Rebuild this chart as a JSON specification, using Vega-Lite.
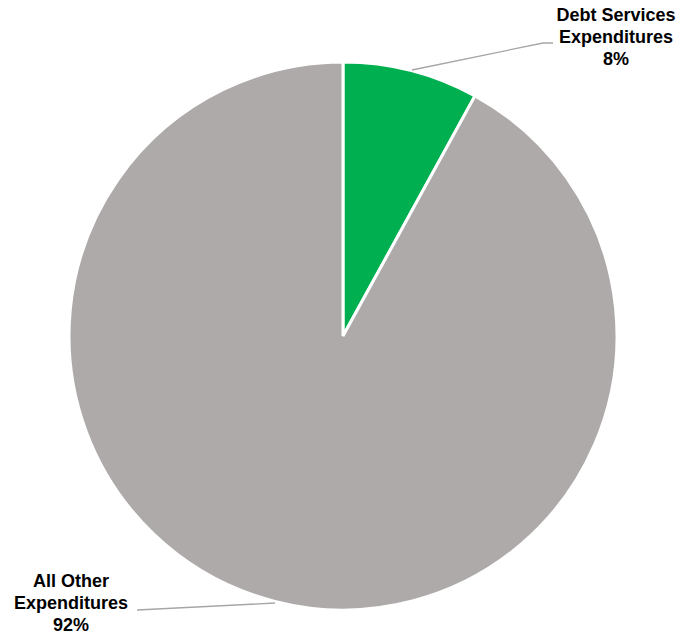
{
  "$schema": "https://vega.github.io/schema/vega-lite/v6.json",
  "width": 686,
  "height": 602,
  "autosize": {"type": "none"},
  "padding": {"left": 0, "top": 35, "right": 9, "bottom": 0},
  "background": "white",
  "config": {"view": {"stroke": null}},
  "datasets": {
    "slices": [
      {"category": "Debt Services Expenditures", "value": 8, "label": "Debt Services\nExpenditures\n8%"},
      {"category": "All Other Expenditures", "value": 92, "label": "All Other\nExpenditures\n92%"}
    ],
    "leaders": [
      {"category": "Debt Services Expenditures", "point": 1, "x": 0.2518, "y": 0.9708},
      {"category": "Debt Services Expenditures", "point": 2, "x": 0.7299, "y": 1.0693},
      {"category": "Debt Services Expenditures", "point": 3, "x": 0.7664, "y": 1.0693},
      {"category": "All Other Expenditures", "point": 1, "x": -0.2482, "y": -0.9745},
      {"category": "All Other Expenditures", "point": 2, "x": -0.7518, "y": -1.0}
    ]
  },
  "layer": [
    {
      "data": {"name": "slices"},
      "mark": {"type": "arc", "outerRadius": 274, "stroke": "white", "strokeWidth": 3},
      "encoding": {
        "theta": {"field": "value", "type": "quantitative", "stack": true},
        "color": {
          "field": "category",
          "type": "nominal",
          "scale": {"domain": ["Debt Services Expenditures", "All Other Expenditures"], "range": ["#00B050", "#AEAAAA"]},
          "legend": null
        },
        "order": {"field": "value", "type": "quantitative", "sort": "ascending"}
      }
    },
    {
      "data": {"name": "leaders"},
      "mark": {"type": "line", "color": "#A6A6A6", "strokeWidth": 1.3},
      "encoding": {
        "x": {"field": "x", "type": "quantitative", "scale": {"domain": [-1.2518, 1.2518], "nice": false, "zero": false}, "axis": null},
        "y": {"field": "y", "type": "quantitative", "scale": {"domain": [-1.0985, 1.0985], "nice": false, "zero": false}, "axis": null},
        "detail": {"field": "category", "type": "nominal"},
        "order": {"field": "point", "type": "quantitative"}
      }
    },
    {
      "data": {"name": "slices"},
      "mark": {"type": "text", "radius": 420.6, "thetaOffset": 0.455, "font": "Liberation Sans", "fontWeight": "bold", "fontSize": 18, "lineBreak": "\n", "lineHeight": 22, "align": "center", "baseline": "middle", "color": "#000000"},
      "encoding": {
        "theta": {"field": "value", "type": "quantitative", "stack": true},
        "order": {"field": "value", "type": "quantitative", "sort": "ascending"},
        "text": {"condition": {"test": "datum.category === 'Debt Services Expenditures'", "field": "label", "type": "nominal"}, "value": ""}
      }
    },
    {
      "data": {"name": "slices"},
      "mark": {"type": "text", "radius": 366.7, "thetaOffset": 0.584, "font": "Liberation Sans", "fontWeight": "bold", "fontSize": 18, "lineBreak": "\n", "lineHeight": 22, "align": "center", "baseline": "middle", "color": "#000000"},
      "encoding": {
        "theta": {"field": "value", "type": "quantitative", "stack": true},
        "order": {"field": "value", "type": "quantitative", "sort": "ascending"},
        "text": {"condition": {"test": "datum.category === 'All Other Expenditures'", "field": "label", "type": "nominal"}, "value": ""}
      }
    }
  ]
}
